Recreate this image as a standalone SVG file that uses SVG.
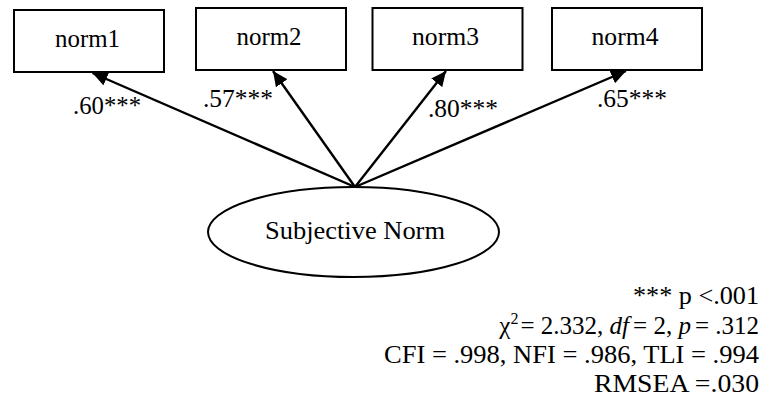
<svg xmlns="http://www.w3.org/2000/svg" width="764" height="408" viewBox="0 0 764 408">
  <style>
    text { font-family: "Liberation Serif", "Times New Roman", serif; font-size: 25px; fill: #000; }
    .sup { font-size: 16px; }
    .it { font-style: italic; }
    .box { fill: #fff; stroke: #000; stroke-width: 2; }
    .latent { fill: #fff; stroke: #000; stroke-width: 2; }
    .path { stroke: #000; stroke-width: 2.4; fill: none; marker-end: url(#head); }
  </style>
  <defs>
    <marker id="head" markerUnits="userSpaceOnUse" markerWidth="16" markerHeight="14" refX="15" refY="7" orient="auto">
      <path d="M0,0 L15,7 L0,14 z" fill="#000"/>
    </marker>
  </defs>

  <!-- observed indicators -->
  <g id="norm1">
    <rect class="box" x="14" y="10" width="150" height="62"/>
    <text x="87.5" y="46.5" text-anchor="middle" textLength="65" lengthAdjust="spacingAndGlyphs">norm1</text>
  </g>
  <g id="norm2">
    <rect class="box" x="196" y="8" width="150" height="62"/>
    <text x="269" y="44.5" text-anchor="middle" textLength="65" lengthAdjust="spacingAndGlyphs">norm2</text>
  </g>
  <g id="norm3">
    <rect class="box" x="372.5" y="8" width="150" height="62"/>
    <text x="445.5" y="44.5" text-anchor="middle" textLength="67" lengthAdjust="spacingAndGlyphs">norm3</text>
  </g>
  <g id="norm4">
    <rect class="box" x="552" y="8" width="150" height="62"/>
    <text x="625" y="44.5" text-anchor="middle" textLength="67" lengthAdjust="spacingAndGlyphs">norm4</text>
  </g>

  <!-- latent factor -->
  <g id="subjective-norm">
    <ellipse class="latent" cx="353.5" cy="232" rx="145.5" ry="45"/>
    <text x="265" y="238.5" textLength="180" lengthAdjust="spacingAndGlyphs">Subjective Norm</text>
  </g>

  <!-- factor loadings -->
  <g id="connectors">
    <line class="path" x1="355" y1="187" x2="92.5" y2="73"/>
    <line class="path" x1="355" y1="187" x2="273" y2="71"/>
    <line class="path" x1="355" y1="187" x2="446" y2="71"/>
    <line class="path" x1="355" y1="187" x2="626" y2="71"/>
  </g>

  <g id="loading-labels">
    <text x="73" y="113.5" textLength="68" lengthAdjust="spacingAndGlyphs">.60***</text>
    <text x="203" y="107" textLength="70" lengthAdjust="spacingAndGlyphs">.57***</text>
    <text x="428" y="117" textLength="70" lengthAdjust="spacingAndGlyphs">.80***</text>
    <text x="597" y="107" textLength="70" lengthAdjust="spacingAndGlyphs">.65***</text>
  </g>

  <!-- fit statistics -->
  <g id="fit-notes">
    <text x="759" y="304" text-anchor="end" textLength="126" lengthAdjust="spacingAndGlyphs">*** p &lt;.001</text>
    <text x="759" y="334" text-anchor="end">χ<tspan class="sup" dy="-10">2</tspan><tspan dy="10" dx="2">= 2.332, </tspan><tspan class="it">df</tspan><tspan dx="4">= 2, </tspan><tspan class="it">p</tspan><tspan dx="4">= .312</tspan></text>
    <text x="759" y="363" text-anchor="end" textLength="375" lengthAdjust="spacingAndGlyphs">CFI = .998, NFI = .986, TLI = .994</text>
    <text x="759" y="392" text-anchor="end" textLength="165" lengthAdjust="spacingAndGlyphs">RMSEA =.030</text>
  </g>
</svg>
